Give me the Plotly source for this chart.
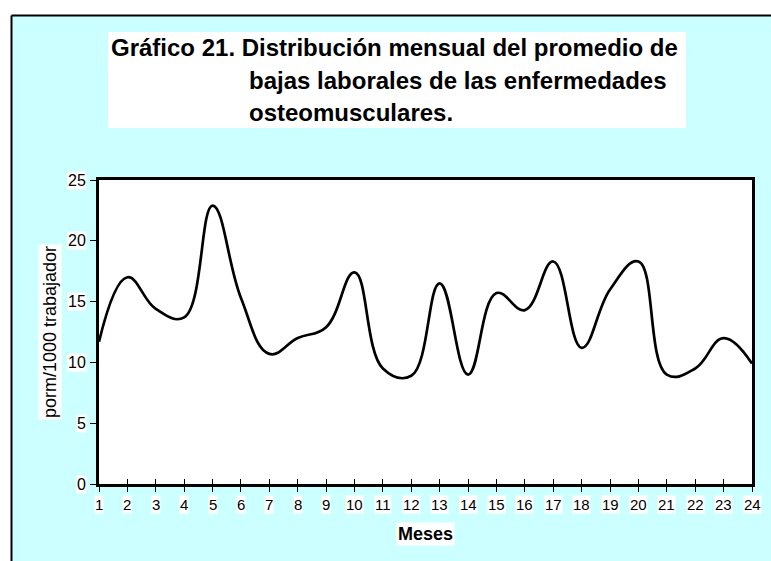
import plotly.graph_objects as go

# ---- data ----
months = list(range(1, 25))
values = [11.7, 17.0, 14.4, 13.7, 22.9, 15.3, 10.7, 12.0, 12.9, 17.4, 9.5, 8.9,
          16.5, 9.0, 15.7, 14.3, 18.3, 11.2, 16.0, 18.3, 9.0, 9.5, 12.0, 9.9]
y_ticks = [0, 5, 10, 15, 20, 25]
title_lines = ["Gráfico 21. Distribución mensual del promedio de",
               "bajas laborales de las enfermedades",
               "osteomusculares."]
x_title = "Meses"
y_title = "porm/1000 trabajador"

# ---- layout geometry (pixels) ----
W, H = 771, 561
ML, MR, MT, MB = 99, 19, 180, 77
PW = W - ML - MR
PH = H - MT - MB


def px(x):
    return (x - ML) / PW


def py(y):
    return (H - MB - y) / PH


FONT = "Arial, Liberation Sans, sans-serif"

fig = go.Figure()
fig.add_trace(go.Scatter(
    x=months, y=values, mode="lines",
    line=dict(color="black", width=2.7, shape="spline", smoothing=1.2),
    hoverinfo="x+y", showlegend=False,
))
# invisible trace for overlay axis (crossing ticks)
fig.add_trace(go.Scatter(x=months, y=values, xaxis="x2", mode="lines",
                         line=dict(width=0), opacity=0, hoverinfo="skip",
                         showlegend=False))

annotations = []
# title
title_x = [109, 247, 247]
title_y = [47, 80, 113]
for t, xx, yy in zip(title_lines, title_x, title_y):
    annotations.append(dict(text=t, xref="paper", yref="paper", x=px(xx), y=py(yy),
                            xanchor="left", yanchor="middle", showarrow=False,
                            font=dict(family=FONT, size=24, color="black", weight="bold")))
# x tick labels with white boxes
for m in months:
    annotations.append(dict(text=str(m), xref="x", yref="paper", x=m, y=0,
                            yanchor="top", yshift=-11, showarrow=False, bgcolor="white",
                            borderpad=0,
                            font=dict(family=FONT, size=15, color="black")))
# y tick labels with white boxes
for v in y_ticks:
    annotations.append(dict(text=str(v), xref="paper", yref="y", x=0, y=v,
                            xanchor="right", xshift=-12, showarrow=False, bgcolor="white",
                            borderpad=0,
                            font=dict(family=FONT, size=16, color="black")))
annotations.append(dict(text=x_title, xref="paper", yref="paper", x=0.5, y=py(534),
                        xanchor="center", yanchor="middle", showarrow=False,
                        bgcolor="white", borderpad=1,
                        font=dict(family=FONT, size=18, color="black", weight="bold")))
annotations.append(dict(text=y_title, xref="paper", yref="paper", x=px(50), y=py(332),
                        xanchor="center", yanchor="middle", textangle=-90,
                        showarrow=False, bgcolor="white", borderpad=1,
                        font=dict(family=FONT, size=18, color="black")))

shapes = [
    # white outer margin strips
    dict(type="rect", xref="paper", yref="paper", x0=px(-5), x1=px(W + 5),
         y0=py(15.5), y1=py(-5), fillcolor="white", line=dict(width=0), layer="below"),
    dict(type="rect", xref="paper", yref="paper", x0=px(-5), x1=px(11.5),
         y0=py(H + 5), y1=py(-5), fillcolor="white", line=dict(width=0), layer="below"),
    # outer border lines
    dict(type="line", xref="paper", yref="paper", x0=px(11.5), x1=px(W + 5),
         y0=py(15.5), y1=py(15.5), line=dict(color="black", width=2), layer="below"),
    dict(type="line", xref="paper", yref="paper", x0=px(11.5), x1=px(11.5),
         y0=py(15.5), y1=py(H + 5), line=dict(color="black", width=2), layer="below"),
    # title white box
    dict(type="rect", xref="paper", yref="paper", x0=px(108), x1=px(686),
         y0=py(128), y1=py(32), fillcolor="white", line=dict(width=0), layer="below"),
]

fig.update_layout(
    width=W, height=H,
    margin=dict(l=ML, r=MR, t=MT, b=MB, pad=0),
    paper_bgcolor="#CCFFFF", plot_bgcolor="white",
    showlegend=False,
    annotations=annotations, shapes=shapes,
    xaxis=dict(range=[1, 24], tickvals=months, showticklabels=False,
               ticks="outside", ticklen=5, tickwidth=1, tickcolor="black",
               showgrid=False, zeroline=False, showline=True, linecolor="black",
               linewidth=2.5, mirror=True),
    xaxis2=dict(range=[1, 24], overlaying="x", side="bottom", tickvals=months,
                showticklabels=False, ticks="inside", ticklen=5, tickwidth=1,
                tickcolor="black", showgrid=False, zeroline=False, showline=False),
    yaxis=dict(range=[0, 25], tickvals=y_ticks, showticklabels=False,
               ticks="outside", ticklen=6, tickwidth=1, tickcolor="black",
               showgrid=False, zeroline=False, showline=True, linecolor="black",
               linewidth=2.5, mirror=True),
)

fig.write_html("out.html",
               config={"displayModeBar": False},
               post_script="document.body.style.margin='0px';"
                           "document.body.style.overflow='hidden';")
